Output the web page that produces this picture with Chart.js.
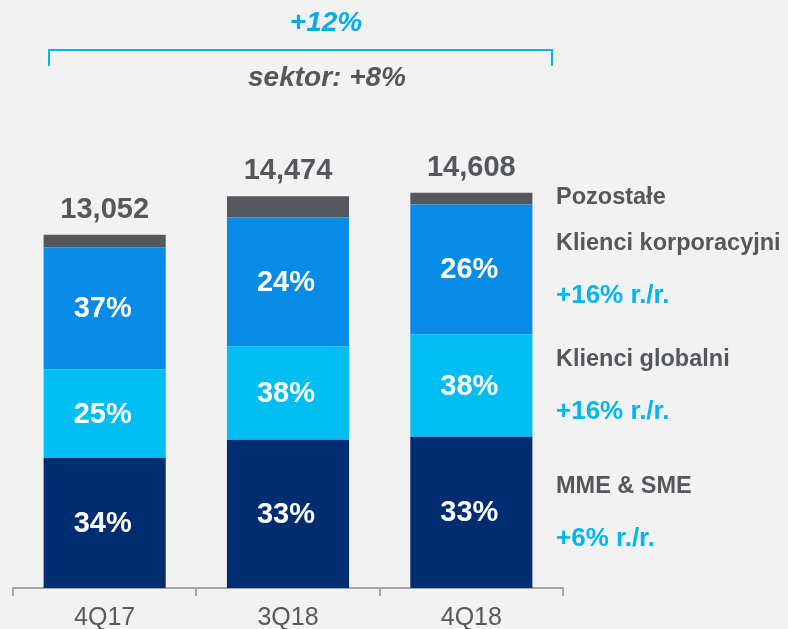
<!DOCTYPE html>
<html>
<head>
<meta charset="utf-8">
<script src="https://cdn.jsdelivr.net/npm/chart.js@4.4.1/dist/chart.umd.min.js"></script>
<style>
  html, body { margin: 0; padding: 0; background: #f2f2f2; overflow: hidden; }
  #wrap { width: 788px; height: 629px; overflow: hidden; }
</style>
</head>
<body>
<div id="wrap"><canvas id="chart" width="788" height="641"></canvas></div>
<script>
var categories = ['4Q17', '3Q18', '4Q18'];
var mmeSme = [4800, 5480, 5585];
var klienciGlobalni = [3280, 3450, 3790];
var klienciKorporacyjni = [4500, 4760, 4800];
var pozostale = [472, 784, 433];
var totals = [13052, 14474, 14608];

var mmeShare = ['34%', '33%', '33%'];
var globalShare = ['25%', '38%', '38%'];
var korpShare = ['37%', '24%', '26%'];

var seriesNames = ['MME & SME', 'Klienci globalni', 'Klienci korporacyjni', 'Pozostałe'];
var seriesGrowth = ['+6% r./r.', '+16% r./r.', '+16% r./r.', ''];

var growthTotal = '+12%';
var growthSector = 'sektor: +8%';

var NAVY = '#002d72', CYAN = '#00bef2', BLUE = '#068be6', GRAY = '#54575c';
var TEXT_GRAY = '#54575b', TEXT_CYAN = '#00b6ef';
var FONT = '"Liberation Sans", Arial, sans-serif';

var labelsPlugin = {
  id: 'labelsPlugin',
  afterDatasetsDraw: function (chart) {
    var ctx = chart.ctx;
    var shares = [mmeShare, globalShare, korpShare];
    ctx.save();
    ctx.textAlign = 'center';
    ctx.textBaseline = 'middle';
    ctx.fillStyle = '#ffffff';
    ctx.font = 'bold 29px ' + FONT;
    shares.forEach(function (arr, d) {
      chart.getDatasetMeta(d).data.forEach(function (el, i) {
        ctx.fillText(arr[i], el.x - 2, (el.y + el.base) / 2 + 1);
      });
    });

    // totals above the bars
    var topMeta = chart.getDatasetMeta(3);
    ctx.fillStyle = TEXT_GRAY;
    ctx.textBaseline = 'alphabetic';
    topMeta.data.forEach(function (el, i) {
      ctx.fillText(totals[i].toLocaleString('en-US'), el.x, el.y - 17);
    });

    // series names to the right of the last bar
    var last = categories.length - 1;
    ctx.textAlign = 'left';
    ctx.textBaseline = 'middle';
    for (var d = 0; d < 4; d++) {
      var el = chart.getDatasetMeta(d).data[last];
      var cy = (el.y + el.base) / 2;
      ctx.fillStyle = TEXT_GRAY;
      ctx.font = 'bold 23.5px ' + FONT;
      if (seriesGrowth[d]) {
        ctx.fillText(seriesNames[d], 556, cy - 26);
        ctx.fillStyle = TEXT_CYAN;
        ctx.font = 'bold 26px ' + FONT;
        ctx.fillText(seriesGrowth[d], 556, cy + 26);
      } else {
        ctx.fillText(seriesNames[d], 556, cy - 1);
      }
    }

    // growth bracket on top
    ctx.strokeStyle = '#00b4ec';
    ctx.lineWidth = 2;
    ctx.beginPath();
    ctx.moveTo(49, 66);
    ctx.lineTo(49, 50);
    ctx.lineTo(552, 50);
    ctx.lineTo(552, 66);
    ctx.stroke();

    ctx.textAlign = 'center';
    ctx.font = 'italic bold 28px ' + FONT;
    ctx.fillStyle = '#00aeef';
    ctx.fillText(growthTotal, 326, 23);
    ctx.fillStyle = TEXT_GRAY;
    ctx.fillText(growthSector, 327, 78);
    ctx.restore();
  }
};

function makeSet(label, data, color) {
  return {
    label: label,
    data: data,
    backgroundColor: color,
    borderWidth: 0,
    categoryPercentage: 0.666,
    barPercentage: 1
  };
}

new Chart(document.getElementById('chart'), {
  type: 'bar',
  data: {
    labels: categories,
    datasets: [
      makeSet(seriesNames[0], mmeSme, NAVY),
      makeSet(seriesNames[1], klienciGlobalni, CYAN),
      makeSet(seriesNames[2], klienciKorporacyjni, BLUE),
      makeSet(seriesNames[3], pozostale, GRAY)
    ]
  },
  options: {
    responsive: false,
    animation: false,
    layout: { padding: { left: 13, right: 225, top: 155, bottom: 0 } },
    plugins: {
      legend: { display: false },
      tooltip: { enabled: false }
    },
    scales: {
      x: {
        stacked: true,
        grid: {
          display: true,
          drawOnChartArea: false,
          drawTicks: true,
          tickLength: 8,
          color: '#a6a6a6',
          lineWidth: 2
        },
        border: { display: true, color: '#a6a6a6', width: 2 },
        ticks: {
          color: '#595959',
          padding: 9,
          font: { family: FONT, size: 25, lineHeight: 1.08 }
        }
      },
      y: {
        stacked: true,
        display: false,
        min: 0,
        max: 16000
      }
    }
  },
  plugins: [labelsPlugin]
});
</script>
</body>
</html>
